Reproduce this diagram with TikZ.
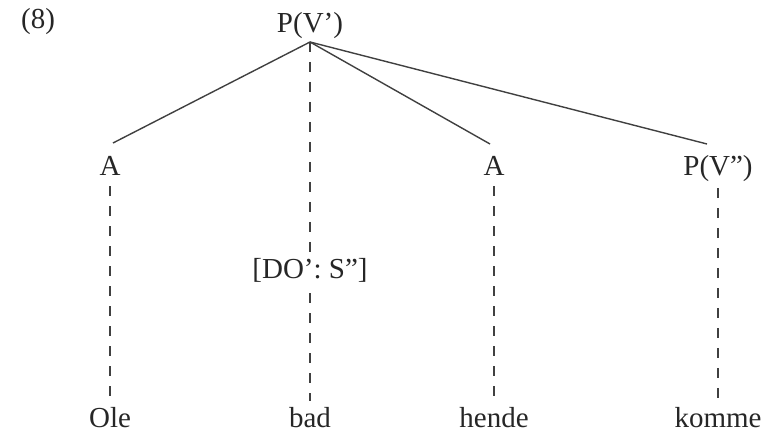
\documentclass[tikz,border=0pt]{standalone}
\usepackage{fontspec}
\setmainfont{Liberation Serif}
\begin{document}
\begin{tikzpicture}[x=1pt,y=-1pt,
  lab/.style={font=\fontsize{29}{31}\selectfont, text=black!85, inner sep=0pt, anchor=base},
  branch/.style={line width=1.4pt, draw=black!75},
  link/.style={line width=1.4pt, draw=black!75, dash pattern=on 10pt off 10pt}]
\useasboundingbox (0,0) rectangle (775,435);
% labels
\node[lab] (num) at (38,29) {(8)};
\node[lab] (pv) at (310,33) {P(V’)};
\node[lab] (a1) at (110,176) {A};
\node[lab] (a2) at (494,176) {A};
\node[lab] (pvv) at (718,176) {P(V”)};
\node[lab] (do) at (310,279) {[DO’: S”]};
\node[lab] (ole) at (110,427) {Ole};
\node[lab] (bad) at (310,427) {bad};
\node[lab] (hende) at (494,427) {hende};
\node[lab] (komme) at (718,427) {komme};
% branching point under the root and branch ends above the daughters
\coordinate (apex) at (310,42);
\coordinate (a1top) at (113,143);
\coordinate (a2top) at (490,144);
\coordinate (pvvtop) at (707,144);
% solid branches
\draw[branch] (apex) -- (a1top);
\draw[branch] (apex) -- (a2top);
\draw[branch] (apex) -- (pvvtop);
% dashed links
\draw[link] (apex) -- ([yshift=7pt]do.north);
\draw[link] ([yshift=-10pt]do.south) -- ([yshift=6pt]bad.north);
\draw[link] ([yshift=-10pt]a1.south) -- ([yshift=6pt]ole.north);
\draw[link] ([yshift=-10pt]a2.south) -- ([yshift=6pt]hende.north);
\draw[link] ([yshift=-6pt]pvv.south) -- ([yshift=6pt]komme.north);
\end{tikzpicture}
\end{document}
